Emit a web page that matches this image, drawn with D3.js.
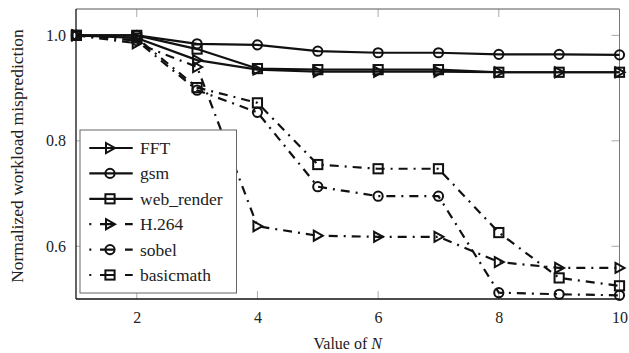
<!DOCTYPE html>
<html><head><meta charset="utf-8">
<script src="https://cdn.jsdelivr.net/npm/d3@7"></script>
<style>body{margin:0;background:#fff}svg{display:block}</style>
</head><body>
<script>
const N = [1,2,3,4,5,6,7,8,9,10];
const FFT        = [1.0, 0.995, 0.953, 0.935, 0.931, 0.931, 0.931, 0.930, 0.930, 0.930];
const gsm        = [1.0, 1.0, 0.984, 0.982, 0.970, 0.967, 0.967, 0.964, 0.964, 0.963];
const web_render = [1.0, 1.0, 0.974, 0.937, 0.935, 0.935, 0.935, 0.930, 0.930, 0.930];
const H264       = [1.0, 0.985, 0.940, 0.638, 0.620, 0.618, 0.618, 0.570, 0.559, 0.559];
const sobel      = [1.0, 0.990, 0.896, 0.854, 0.713, 0.695, 0.695, 0.512, 0.509, 0.507];
const basicmath  = [1.0, 0.995, 0.901, 0.872, 0.755, 0.747, 0.747, 0.626, 0.540, 0.525];
const seriesNames = ["FFT","gsm","web_render","H.264","sobel","basicmath"];
const xTicks = [2,4,6,8,10];
const yTicks = [0.6,0.8,1.0];

const DD = "9,6,2,6";
const series = [
  {name:"FFT", vals:FFT, mark:"tri", dash:null},
  {name:"gsm", vals:gsm, mark:"circ", dash:null},
  {name:"web_render", vals:web_render, mark:"sq", dash:null},
  {name:"H.264", vals:H264, mark:"tri", dash:DD},
  {name:"sobel", vals:sobel, mark:"circ", dash:DD},
  {name:"basicmath", vals:basicmath, mark:"sq", dash:DD}
];

const W=629,H=353;
const L=76,R=619.5,T=9,B=299;
const x=d3.scaleLinear().domain([1,10]).range([L+0.4,R]);
const y=d3.scaleLinear().domain([0.5,1.05]).range([B,T]);
const font="'Liberation Serif','Times New Roman',serif";

const svg=d3.select("body").append("svg").attr("width",W).attr("height",H);

// ticks (gray, inward, both sides)
const tg=svg.append("g").attr("stroke","#aaa").attr("stroke-width",1);
xTicks.forEach(t=>{
  tg.append("line").attr("x1",x(t)).attr("x2",x(t)).attr("y1",B).attr("y2",B-8);
  tg.append("line").attr("x1",x(t)).attr("x2",x(t)).attr("y1",T).attr("y2",T+8);
});
yTicks.forEach(t=>{
  tg.append("line").attr("x1",L).attr("x2",L+6).attr("y1",y(t)).attr("y2",y(t));
  tg.append("line").attr("x1",R).attr("x2",R-8).attr("y1",y(t)).attr("y2",y(t));
});

// axes via d3 for labels
const xAxis=svg.append("g").attr("transform",`translate(0,${B})`)
  .call(d3.axisBottom(x).tickValues(xTicks).tickSize(0).tickPadding(13).tickFormat(d3.format("d")));
xAxis.select(".domain").remove();
xAxis.selectAll("text").attr("font-family",font).attr("font-size",16).attr("fill","#222");
const yAxis=svg.append("g").attr("transform",`translate(${L},0)`)
  .call(d3.axisLeft(y).tickValues(yTicks).tickSize(0).tickPadding(10).tickFormat(d3.format(".1f")));
yAxis.select(".domain").remove();
yAxis.selectAll("text").attr("font-family",font).attr("font-size",16).attr("fill","#222");

// frame
svg.append("line").attr("x1",L).attr("x2",R).attr("y1",T).attr("y2",T).attr("stroke","#555").attr("stroke-width",1);
svg.append("line").attr("x1",R).attr("x2",R).attr("y1",T).attr("y2",B).attr("stroke","#777").attr("stroke-width",1);
svg.append("line").attr("x1",L).attr("x2",R).attr("y1",B).attr("y2",B).attr("stroke","#111").attr("stroke-width",1.3);
svg.append("line").attr("x1",L).attr("x2",L).attr("y1",T).attr("y2",B).attr("stroke","#111").attr("stroke-width",1.3);

function drawMark(g,type,cx,cy){
  if(type==="circ"){
    g.append("circle").attr("cx",cx).attr("cy",cy).attr("r",4.6);
  }else if(type==="sq"){
    g.append("rect").attr("x",cx-4.6).attr("y",cy-4.6).attr("width",9.2).attr("height",9.2);
  }else{
    g.append("path").attr("d",`M${cx-4},${cy-5}L${cx+5},${cy}L${cx-4},${cy+5}Z`);
  }
}

const line=d3.line().x((d,i)=>x(N[i])).y(d=>y(d));
const plot=svg.append("g");
series.forEach(s=>{
  plot.append("path").datum(s.vals).attr("d",line).attr("fill","none")
    .attr("stroke","#111").attr("stroke-width",2.2)
    .attr("stroke-dasharray",s.dash).attr("stroke-linejoin","round");
  const mg=plot.append("g").attr("fill","none").attr("stroke","#111").attr("stroke-width",2);
  s.vals.forEach((v,i)=>drawMark(mg,s.mark,x(N[i]),y(v)));
});

// legend
const lx=80,ly=130,lw=156.5,lh=163;
const lg=svg.append("g");
lg.append("rect").attr("x",lx).attr("y",ly).attr("width",lw).attr("height",lh)
  .attr("fill","#fff").attr("stroke","#666").attr("stroke-width",1);
series.forEach((s,i)=>{
  const cy=ly+18+i*25.4;
  lg.append("line").attr("x1",lx+9.3).attr("x2",lx+52.7).attr("y1",cy).attr("y2",cy)
    .attr("stroke","#111").attr("stroke-width",2.2)
    .attr("stroke-dasharray",s.dash? "2,8.7,14,11,8,100":null);
  const mg=lg.append("g").attr("fill","none").attr("stroke","#111").attr("stroke-width",2);
  drawMark(mg,s.mark,lx+30,cy);
  lg.append("text").attr("x",lx+60).attr("y",cy+6).attr("font-family",font)
    .attr("font-size",17.5).attr("fill","#222").text(seriesNames[i]);
});

// axis titles
const xt=svg.append("text").attr("x",(L+R)/2).attr("y",349).attr("text-anchor","middle")
  .attr("font-family",font).attr("font-size",16).attr("fill","#222");
xt.append("tspan").text("Value of ");
xt.append("tspan").attr("font-style","italic").text("N");
svg.append("text").attr("transform",`translate(23,${(T+B)/2+2}) rotate(-90)`)
  .attr("text-anchor","middle").attr("font-family",font).attr("font-size",17.5).attr("fill","#222")
  .text("Normalized workload misprediction");
</script>
</body></html>
